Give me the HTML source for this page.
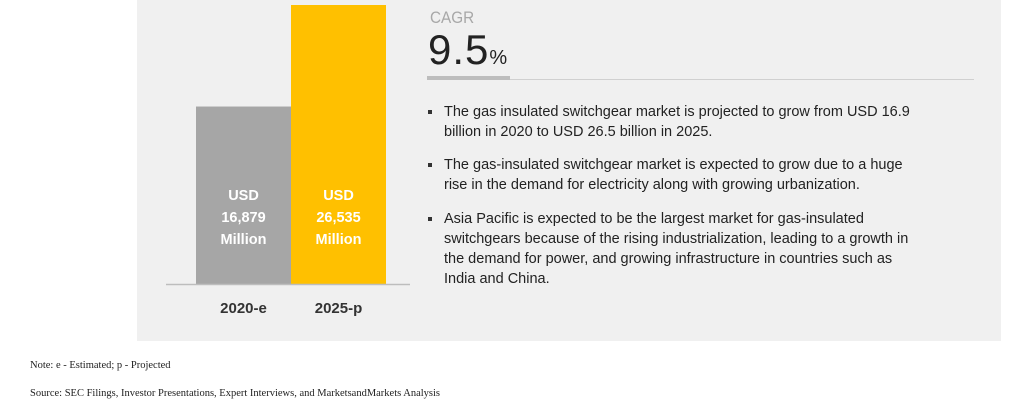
<!DOCTYPE html>
<html><head><meta charset="utf-8"><style>
body{margin:0;width:1024px;height:405px;background:#fff;position:relative;overflow:hidden;font-family:"Liberation Sans",sans-serif}
.abs{position:absolute}
#panel{left:137px;top:0;width:864px;height:341px;background:#f0f0f0}
.bl{position:absolute;left:428px;font-size:14.5px;color:#222;line-height:20px}
.bl::before{content:"";position:absolute;left:0;top:8px;width:4px;height:4px;background:#333}
.bl span{display:block;margin-left:16px}
.note{font-family:"Liberation Serif",serif;font-size:10.5px;color:#222;left:30px}
</style></head><body>
<div id="panel" class="abs"></div>
<svg class="abs" style="left:0;top:0" width="1024" height="405">
<g id="bars"></g>
<line x1="166" y1="284.5" x2="410" y2="284.5" stroke="#bdbdbd" stroke-width="1.5"/>
</svg>
<div class="abs" style="left:430px;top:8px;font-size:17px;color:#a8a8a8;transform:scaleX(0.9);transform-origin:left">CAGR</div>
<div class="abs" style="left:428px;top:26px;font-size:42px;color:#222;letter-spacing:1px">9.5<span style="font-size:20px">%</span></div>
<div class="abs" style="left:427px;top:79px;width:547px;height:1px;background:#d0d0d0"></div>
<div class="abs" style="left:427px;top:76px;width:83px;height:4px;background:#bdbdbd"></div>
<div class="bl" style="top:102px"><span>The gas insulated switchgear market is projected to grow from USD 16.9<br>billion in 2020 to USD 26.5 billion in 2025.</span></div>
<div class="bl" style="top:155px"><span>The gas-insulated switchgear market is expected to grow due to a huge<br>rise in the demand for electricity along with growing urbanization.</span></div>
<div class="bl" style="top:209px"><span>Asia Pacific is expected to be the largest market for gas-insulated<br>switchgears because of the rising industrialization, leading to a growth in<br>the demand for power, and growing infrastructure in countries such as<br>India and China.</span></div>
<div class="abs note" style="top:360px">Note: e - Estimated; p - Projected</div>
<div class="abs note" style="top:388px">Source: SEC Filings, Investor Presentations, Expert Interviews, and MarketsandMarkets Analysis</div>
<script>
const categories=["2020-e","2025-p"];
const values=[16879,26535];
const valueLabels=["16,879","26,535"];
const colors=["#a6a6a6","#ffc000"];
const baseY=284, maxH=279, maxV=26535, x0=196, bw=95;
const y=v=>baseY-v/maxV*maxH;
const ns="http://www.w3.org/2000/svg";
const g=document.getElementById("bars");
categories.forEach((c,i)=>{
 const r=document.createElementNS(ns,"rect");
 
 
 r.setAttribute("x",x0+i*bw);r.setAttribute("y",y(values[i]));
 r.setAttribute("width",bw);r.setAttribute("height",baseY-y(values[i]));
 r.setAttribute("fill",colors[i]);g.appendChild(r);
 const cx=x0+i*bw+bw/2;
 ["USD",valueLabels[i],"Million"].forEach((s,k)=>{
  const t=document.createElementNS(ns,"text");
  
  
  t.setAttribute("x",cx);t.setAttribute("y",200+k*22);
  t.setAttribute("text-anchor","middle");t.setAttribute("fill","#fff");
  t.setAttribute("font-size","14.5");t.setAttribute("font-weight","bold");
  t.textContent=s;g.appendChild(t);
 });
 const l=document.createElementNS(ns,"text");
 
 
 l.setAttribute("x",cx);l.setAttribute("y",313);
 l.setAttribute("text-anchor","middle");l.setAttribute("fill","#333");
 l.setAttribute("font-size","15");l.setAttribute("font-weight","bold");
 l.textContent=c;g.appendChild(l);
});
</script>
</body></html>
